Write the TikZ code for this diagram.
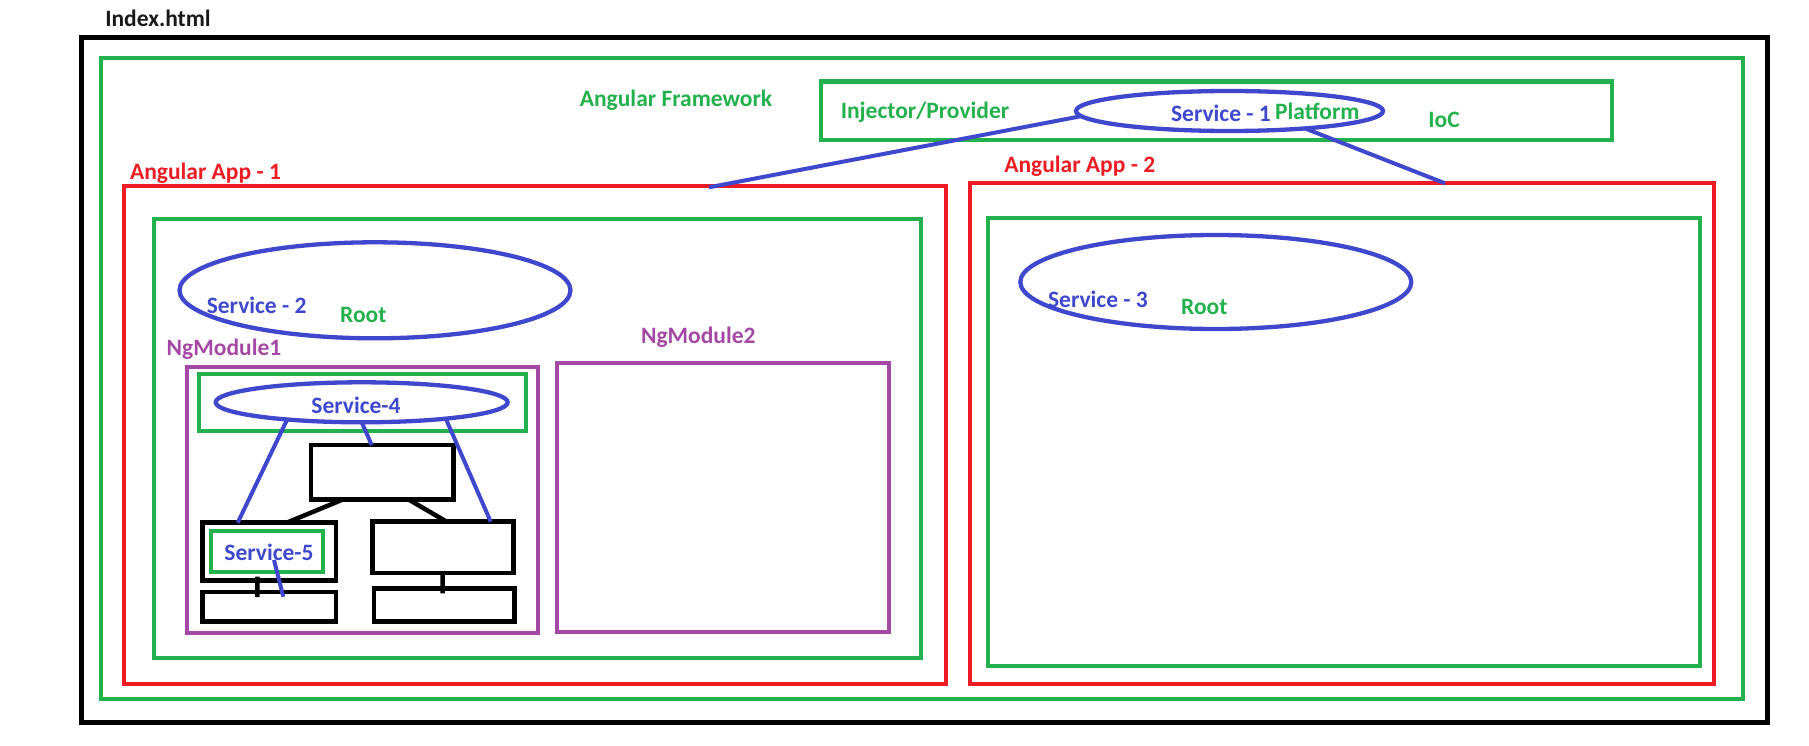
\documentclass[tikz,border=0pt]{standalone}
\usepackage{fontspec}
\setmainfont{Carlito}
\usetikzlibrary{shapes.geometric}
\definecolor{pgreen}{HTML}{22B14C}
\definecolor{pred}{HTML}{ED1C24}
\definecolor{ppurple}{HTML}{A349A4}
\definecolor{pblue}{HTML}{3F48CC}
\newcommand\RBox[6]{\node[#2, minimum width={(#5-#3)*1bp}, minimum height={(#6-#4)*1bp}] (#1) at ({(#3+#5)/2},{(#4+#6)/2}) {};}
\newcommand\EllNode[5]{\node[ell, minimum width={2*#4*1bp}, minimum height={2*#5*1bp}] (#1) at (#2,#3) {};}
\tikzset{
  frame/.style={draw, rectangle, inner sep=0pt, outer sep=0pt, line width=4bp},
  blackframe/.style={frame, draw=black, line width=5bp},
  greenframe/.style={frame, draw=pgreen},
  redframe/.style={frame, draw=pred},
  purpleframe/.style={frame, draw=ppurple},
  treebox/.style={frame, draw=black, line width=4.5bp},
  ell/.style={draw=pblue, ellipse, line width=4.3bp, inner sep=0pt, outer sep=0pt},
  lbl/.style={inner sep=0pt, font=\fontsize{23.5bp}{28bp}\selectfont\bfseries},
  bluelink/.style={draw=pblue, line width=4bp},
  blacklink/.style={draw=black, line width=4.5bp},
}
\begin{document}
\begin{tikzpicture}[x=1bp, y=-1bp]
\useasboundingbox (0,0) rectangle (1809,746);
% frames
\RBox{index}{blackframe}{81.7}{37.7}{1767.3}{722.3}
\RBox{framework}{greenframe}{100.7}{57.7}{1743.3}{699}
\RBox{injector}{greenframe}{821}{81.5}{1612.3}{140.3}
\RBox{appone}{redframe}{123.5}{186.3}{945.5}{684.2}
\RBox{rootone}{greenframe}{153.5}{219.2}{921}{658.3}
\RBox{apptwo}{redframe}{969.5}{182.5}{1714.3}{684.3}
\RBox{roottwo}{greenframe}{987.5}{218.3}{1700.3}{666}
\RBox{ngone}{purpleframe}{187.3}{366.7}{537.5}{633.3}
\RBox{sfourbox}{greenframe}{199.3}{374}{526}{430.7}
\RBox{ngtwo}{purpleframe}{557.3}{363.3}{889.3}{632.3}
\RBox{tt}{treebox}{311}{445}{453.3}{499.3}
\RBox{lm}{treebox}{202.7}{522.7}{336}{580.7}
\RBox{sfivebox}{greenframe}{210.7}{530.7}{323.3}{572}
\RBox{rm}{treebox}{372.7}{521.7}{513.3}{573}
\RBox{lb}{treebox}{202.5}{592}{336}{621.5}
\RBox{rb}{treebox}{374}{588.3}{514.7}{621.5}
% ellipses
\EllNode{sone}{1229.5}{111}{153.5}{20}
\EllNode{stwo}{375}{290.3}{195.5}{48}
\EllNode{sthree}{1215.8}{282}{195.5}{47}
\EllNode{sfour}{361.7}{402.3}{146}{20}
% labels
\node[lbl, text=black!90] (tindex) at (158,18.3) {Index.html};
\node[lbl, text=pgreen] (tframework) at (676,100) {Angular Framework};
\node[lbl, text=pgreen] (tinjector) at (925,112.7) {Injector/Provider};
\node[lbl, text=pblue] (tsone) at (1221,113.3) {Service - 1};
\node[lbl, text=pgreen] (tplatform) at (1317.3,111.7) {Platform};
\node[lbl, text=pgreen] (tioc) at (1444,120) {IoC};
\node[lbl, text=pred] (tappone) at (205.5,173.3) {Angular App - 1};
\node[lbl, text=pred] (tapptwo) at (1079.7,166) {Angular App - 2};
\node[lbl, text=pblue] (tstwo) at (256.7,305) {Service - 2};
\node[lbl, text=pgreen] (trootone) at (363.3,315) {Root};
\node[lbl, text=ppurple] (tngone) at (224,349.3) {NgModule1};
\node[lbl, text=ppurple] (tngtwo) at (698.3,337.3) {NgModule2};
\node[lbl, text=pblue] (tsthree) at (1098,299) {Service - 3};
\node[lbl, text=pgreen] (troottwo) at (1204.3,307.3) {Root};
\node[lbl, text=pblue] (tsfour) at (356,405) {Service-4};
\node[lbl, text=pblue] (tsfive) at (269,552.3) {Service-5};
% connectors from Service - 1
\coordinate (apponetop) at (709,187.3);
\coordinate (apptwotop) at (1445,183.3);
\draw[bluelink] (sone.182.4) -- (apponetop);
\draw[bluelink] (sone.347.4) -- (apptwotop);
% Service-4 links
\draw[bluelink] (sfour.193.5) -- ([xshift=35bp]lm.north west);
\draw[bluelink] (sfour.south) -- ([xshift=60.7bp]tt.north west);
\draw[bluelink] (sfour.349.8) -- ([xshift=118bp]rm.north west);
\draw[bluelink] ([xshift=7bp,yshift=-8.6bp]sfivebox.center) -- ([xshift=80.8bp,yshift=-4.7bp]lb.north west);
% tree links
\draw[blacklink] ([xshift=32.3bp]tt.south west) -- ([xshift=84bp]lm.north west);
\draw[blacklink] ([xshift=97.3bp]tt.south west) -- ([xshift=74bp]rm.north west);
\draw[blacklink, shorten <=-4bp, shorten >=-5bp] ([xshift=54.6bp]lm.south west) -- ([xshift=54.8bp]lb.north west);
\draw[blacklink, shorten <=-1bp, shorten >=-5bp] ([xshift=70bp]rm.south west) -- ([xshift=68.7bp]rb.north west);
\end{tikzpicture}
\end{document}
